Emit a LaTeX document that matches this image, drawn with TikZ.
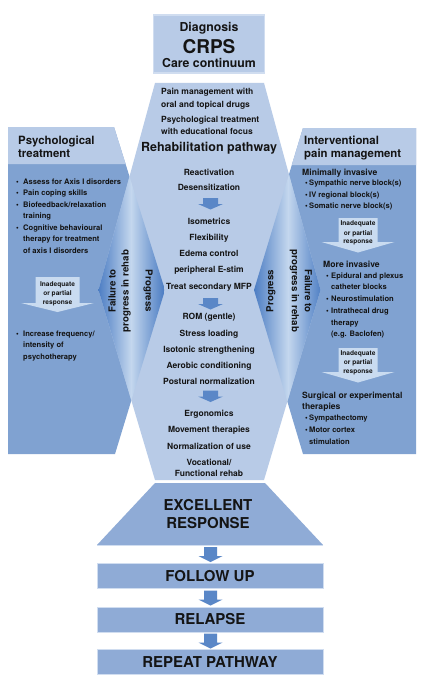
\documentclass[tikz,border=0pt]{standalone}
\usepackage{fontspec}
\setmainfont{TeX Gyre Heros}
\definecolor{lightb}{HTML}{B8CBE7}
\definecolor{panelb}{HTML}{80A2D1}
\definecolor{boxb}{HTML}{8FABD6}
\definecolor{arrowb}{HTML}{5A87C7}
\definecolor{diadark}{HTML}{4C7DC3}
\definecolor{dialight}{HTML}{C4D7EE}
\definecolor{inadb}{HTML}{C9DBF0}
\definecolor{edgeb}{HTML}{D0DDF0}
\definecolor{txtc}{HTML}{141414}
\begin{document}
\begin{tikzpicture}[x=1pt,y=-1pt,
  every node/.style={inner sep=0pt, text=txtc},
  item/.style={font=\bfseries\fontsize{8.5}{10}\selectfont, anchor=base},
  lefttxt/.style={font=\bfseries\fontsize{8.5}{10}\selectfont, anchor=base west},
  head/.style={font=\bfseries\fontsize{11.4}{13}\selectfont, anchor=base west},
  sub/.style={font=\bfseries\fontsize{8.6}{10}\selectfont, anchor=base west},
  bul/.style={font=\bfseries\fontsize{7.6}{9}\selectfont, anchor=base west},
  inad/.style={font=\bfseries\fontsize{6.6}{8}\selectfont, anchor=base},
  vtxt/.style={font=\bfseries\fontsize{9.7}{13}\selectfont, align=center},
  big/.style={font=\bfseries\fontsize{15}{18}\selectfont},
  bbox/.style={fill=boxb, draw=edgeb, line width=0.6pt, minimum width=226pt, minimum height=25pt},
  smallarrow/.pic={\fill[arrowb] (-7.5,0) -- (7.5,0) -- (7.5,6) -- (12.5,6) -- (0,11.5) -- (-12.5,6) -- (-7.5,6) -- cycle;},
  botarrow/.pic={\fill[arrowb] (-6.5,0) -- (6.5,0) -- (6.5,9) -- (12,9) -- (0,15) -- (-12,9) -- (-6.5,9) -- cycle;}
]
\useasboundingbox (0,0) rectangle (422,690);
\fill[white] (0,0) rectangle (422,690);

% panels
\fill[panelb] (8,127) -- (114,127) -- (165,290) -- (115,454) -- (8,454) -- cycle;
\fill[lightb] (8,127) -- (114,127) -- (125.6,164) -- (8,164) -- cycle;
\fill[panelb] (303,128) -- (416,128) -- (416,454) -- (303,454) -- (254,290) -- cycle;
\fill[lightb] (303,128) -- (416,128) -- (416,165) -- (291.8,165) -- cycle;

% centre shape
\fill[lightb] (155,83) -- (264,83) -- (320.5,290) -- (264,480) -- (155,480) -- (98.5,290) -- cycle;

% diamonds
\begin{scope}
  \clip (155,83) -- (264,83) -- (320.5,290) -- (264,480) -- (155,480) -- (98.5,290) -- cycle;
  \clip (8,127) -- (114,127) -- (165,290) -- (115,454) -- (8,454) -- cycle;
  \shade[left color=diadark, right color=diadark, middle color=dialight] (98,170) rectangle (164,410);
\end{scope}
\begin{scope}
  \clip (155,83) -- (264,83) -- (320.5,290) -- (264,480) -- (155,480) -- (98.5,290) -- cycle;
  \clip (303,128) -- (416,128) -- (416,454) -- (303,454) -- (254,290) -- cycle;
  \shade[left color=diadark, right color=diadark, middle color=dialight] (254,170) rectangle (322,410);
\end{scope}

% top box
\node[fill=lightb, draw=edgeb, line width=1.4pt, minimum width=111pt, minimum height=58pt] (topbox) at (209,44) {};
\node[font=\bfseries\fontsize{12.3}{14}\selectfont, anchor=base] (diag) at (209,32) {Diagnosis};
\node[font=\bfseries\fontsize{19}{22}\selectfont, anchor=base] (crps) at (209,53.5) {CRPS};
\node[font=\bfseries\fontsize{12.3}{14}\selectfont, anchor=base] (care) at (209,67.5) {Care continuum};

% centre texts
\node[lefttxt] (c1) at (161,95) {Pain management with};
\node[lefttxt] (c2) at (161,107) {oral and topical drugs};
\node[lefttxt] (c3) at (161,122) {Psychological treatment};
\node[lefttxt] (c4) at (161,134.5) {with educational focus};
\node[font=\bfseries\fontsize{12.5}{14}\selectfont, anchor=base] (rehab) at (209,151.5) {Rehabilitation pathway};
\node[item] (r1) at (209,175) {Reactivation};
\node[item] (r2) at (209,190) {Desensitization};
\pic (a1) at (210.5,198) {smallarrow};
\node[item] (r3) at (209,224) {Isometrics};
\node[item] (r4) at (209,240) {Flexibility};
\node[item] (r5) at (209,256) {Edema control};
\node[item] (r6) at (209,272.5) {peripheral E-stim};
\node[item] (r7) at (209,289) {Treat secondary MFP};
\pic (a2) at (210.5,298) {smallarrow};
\node[item] (r8) at (209,319) {ROM (gentle)};
\node[item] (r9) at (209,336) {Stress loading};
\node[item] (r10) at (209,352) {Isotonic strengthening};
\node[item] (r11) at (209,368) {Aerobic conditioning};
\node[item] (r12) at (209,384) {Postural normalization};
\pic (a3) at (210.5,390.5) {smallarrow};
\node[item] (r13) at (209,416) {Ergonomics};
\node[item] (r14) at (209,432) {Movement therapies};
\node[item] (r15) at (209,449) {Normalization of use};
\node[item] (r16) at (209,465) {Vocational/};
\node[item] (r17) at (209,476) {Functional rehab};

% left panel texts
\node[head] (lh1) at (18,144) {Psychological};
\node[head] (lh2) at (18,157) {treatment};
\node[bul] (l1) at (16,184.5) {\makebox[7pt][l]{\textbullet}Assess for Axis I disorders};
\node[bul] (l2) at (16,195.5) {\makebox[7pt][l]{\textbullet}Pain coping skills};
\node[bul] (l3) at (16,207) {\makebox[7pt][l]{\textbullet}Biofeedback/relaxation};
\node[bul] (l4) at (23,218.5) {training};
\node[bul] (l5) at (16,230) {\makebox[7pt][l]{\textbullet}Cognitive behavioural};
\node[bul] (l6) at (23,241.5) {therapy for treatment};
\node[bul] (l7) at (23,253) {of axis I disorders};
\fill[inadb] (35.5,277) -- (79.5,277) -- (79.5,303) -- (94,303) -- (57.5,312) -- (21,303) -- (35.5,303) -- cycle;
\node[inad] (li1) at (57.5,286.5) {Inadequate};
\node[inad] (li2) at (57.5,295.5) {or partial};
\node[inad] (li3) at (57.5,304) {response};
\node[bul] (l8) at (16,336) {\makebox[7pt][l]{\textbullet}Increase frequency/};
\node[bul] (l9) at (23,347.5) {intensity of};
\node[bul] (l10) at (23,359) {psychotherapy};

% right panel texts
\node[head] (rh1) at (304,144) {Interventional};
\node[head] (rh2) at (304,157) {pain management};
\node[sub] (m0) at (302,175) {Minimally invasive};
\node[bul] (m1) at (305,185.5) {\makebox[4pt][l]{\textbullet}Sympathic nerve block(s)};
\node[bul] (m2) at (305,197) {\makebox[4pt][l]{\textbullet}IV regional block(s)};
\node[bul] (m3) at (305,208.5) {\makebox[4pt][l]{\textbullet}Somatic nerve block(s)};
\fill[inadb] (338.5,218) -- (377.5,218) -- (377.5,242) -- (394.5,242) -- (358,252.5) -- (321.5,242) -- (338.5,242) -- cycle;
\node[inad] (ri1) at (358,225.5) {Inadequate};
\node[inad] (ri2) at (358,235) {or partial};
\node[inad] (ri3) at (358,243) {response};
\node[sub] (v0) at (323,267) {More invasive};
\node[bul] (v1) at (326,278) {\makebox[5pt][l]{\textbullet}Epidural and plexus};
\node[bul] (v2) at (331,289.5) {catheter blocks};
\node[bul] (v3) at (326,301) {\makebox[5pt][l]{\textbullet}Neurostimulation};
\node[bul] (v4) at (326,313.5) {\makebox[5pt][l]{\textbullet}Intrathecal drug};
\node[bul] (v5) at (331,325) {therapy};
\node[bul] (v6) at (331,336) {(e.g. Baclofen)};
\fill[inadb] (338.5,348) -- (377.5,348) -- (377.5,372) -- (394.5,372) -- (358,382.5) -- (321.5,372) -- (338.5,372) -- cycle;
\node[inad] (ri4) at (358,355.5) {Inadequate};
\node[inad] (ri5) at (358,364.5) {or partial};
\node[inad] (ri6) at (358,373) {response};
\node[sub] (s0) at (302,398) {Surgical or experimental};
\node[sub] (s1) at (302,409.5) {therapies};
\node[bul] (s2) at (305,420.5) {\makebox[4pt][l]{\textbullet}Sympathectomy};
\node[bul] (s3) at (305,432.5) {\makebox[4pt][l]{\textbullet}Motor cortex};
\node[bul] (s4) at (309,444) {stimulation};

% vertical texts
\node[vtxt, rotate=90] (failL) at (119.5,291) {Failure to\\progress in rehab};
\node[vtxt, rotate=-90] (progL) at (148,291) {Progress};
\node[vtxt, rotate=90] (progR) at (271,291) {Progress};
\node[vtxt, rotate=-90] (failR) at (301,291) {Failure to\\progress in rehab};

% bottom
\fill[boxb] (155,483) -- (265,483) -- (323,545) -- (97,545) -- cycle;
\draw[edgeb, line width=0.6pt] (97,545.3) -- (323,545.3);
\node[big, anchor=base] (exc1) at (208,510.5) {EXCELLENT};
\node[big, anchor=base] (exc2) at (208,528.5) {RESPONSE};
\pic (b1) at (210.5,547) {botarrow};
\node[bbox, big] (fu) at (210,575.8) {FOLLOW UP};
\pic (b2) at (210.5,590.5) {botarrow};
\node[bbox, big] (rel) at (210,619.5) {RELAPSE};
\pic (b3) at (210.5,633.5) {botarrow};
\node[bbox, big] (rep) at (210,662) {REPEAT PATHWAY};
\end{tikzpicture}
\end{document}
